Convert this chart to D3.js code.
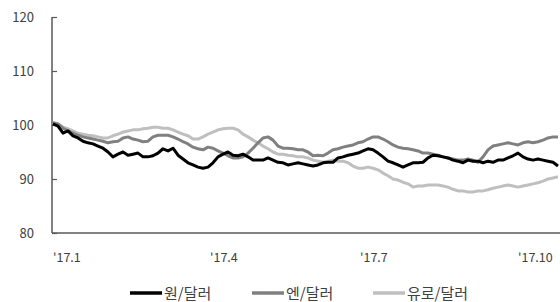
<!DOCTYPE html>
<html><head><meta charset="utf-8">
<script src="https://cdn.jsdelivr.net/npm/d3@7"></script>
<style>
body{margin:0;background:#fff;}
svg text{font-family:"Noto Sans CJK KR","Noto Sans",sans-serif;}
</style></head>
<body><svg id="c" width="560" height="302"></svg>
<script>
// Sampled values (index = trading-period sample, Jan 2017 .. Oct 2017)
const krw = [100.2,99.8,98.5,98.9,98.0,97.6,97.0,96.7,96.5,96.1,95.7,95.0,94.1,94.6,95.0,94.4,94.6,94.8,94.1,94.1,94.3,94.8,95.6,95.2,95.7,94.4,93.7,93.0,92.6,92.2,92.0,92.2,93.0,94.1,94.6,95.0,94.4,94.3,94.6,94.1,93.5,93.5,93.5,93.9,93.5,93.1,93.0,92.6,92.8,93.0,92.8,92.6,92.4,92.6,93.0,93.1,93.1,93.9,94.1,94.4,94.6,94.8,95.2,95.6,95.4,94.8,94.1,93.3,93.0,92.6,92.2,92.6,93.0,93.0,93.1,93.9,94.4,94.3,94.1,93.9,93.5,93.3,93.0,93.5,93.3,93.3,93.0,93.3,93.1,93.5,93.5,93.9,94.3,94.8,94.1,93.7,93.5,93.7,93.5,93.3,93.1,92.4];
const jpy = [100.4,100.2,99.4,98.9,98.5,98.1,97.8,97.6,97.4,97.2,97.0,96.7,96.9,97.0,97.6,97.8,97.4,97.2,96.9,97.0,97.8,98.1,98.1,98.1,97.8,97.4,96.9,96.5,95.9,95.6,95.4,95.9,95.7,95.2,94.8,94.3,93.9,93.9,94.1,94.8,95.7,96.7,97.6,97.8,97.2,96.1,95.7,95.7,95.6,95.4,95.4,95.0,94.3,94.4,94.3,94.8,95.4,95.6,95.9,96.1,96.3,96.7,96.9,97.4,97.8,97.8,97.4,96.9,96.3,95.9,95.7,95.6,95.4,95.2,94.8,94.8,94.6,94.4,94.1,93.9,93.7,93.5,93.5,93.7,93.5,93.1,94.1,95.4,96.1,96.3,96.5,96.7,96.5,96.3,96.7,96.9,96.7,96.9,97.2,97.6,97.8,97.8];
const eur = [100.4,100.2,99.6,99.3,98.9,98.5,98.3,98.1,98.0,97.8,97.6,97.6,98.0,98.3,98.7,98.9,99.1,99.1,99.3,99.4,99.6,99.6,99.4,99.4,99.1,98.7,98.3,98.0,97.4,97.4,97.8,98.3,98.7,99.1,99.3,99.4,99.4,99.1,98.3,97.8,97.2,96.7,96.1,95.6,95.0,94.6,94.6,94.4,94.3,94.1,94.1,93.9,93.5,93.3,93.1,93.3,93.5,93.3,93.3,93.0,92.4,92.0,92.0,92.2,92.0,91.7,91.1,90.6,90.0,89.8,89.4,89.1,88.5,88.7,88.7,88.9,88.9,88.9,88.7,88.5,88.1,87.8,87.8,87.6,87.6,87.8,87.8,88.0,88.3,88.5,88.7,88.9,88.7,88.5,88.7,88.9,89.1,89.3,89.6,90.0,90.2,90.4];
const seriesNames = ["원/달러","엔/달러","유로/달러"];
const seriesColors = ["#000000","#808080","#bfbfbf"];
const yTicks = [80,90,100,110,120];
const xTickLabels = ["'17.1","'17.4","'17.7","'17.10"];
const xTickIdx = [0,31.4,61.4,93];

const svg = d3.select("#c");
const x = d3.scaleLinear().domain([0, krw.length-1]).range([53,558]);
const y = d3.scaleLinear().domain([80,120]).range([233,17]);

// y axis with inward ticks
const yAxis = d3.axisRight(y).tickValues(yTicks).tickSize(5).tickFormat(d3.format("d"));
const ga = svg.append("g").attr("transform","translate(52,0)").call(yAxis);
ga.select(".domain").attr("stroke","#595959").attr("stroke-width",1.5).attr("d","M0,17V233");
ga.selectAll(".tick line").attr("stroke","#595959").attr("stroke-width",1.2);
ga.selectAll(".tick text").attr("x",-18).attr("text-anchor","end").attr("fill","#404040")
  .attr("font-size",13).attr("dy","0.35em");

// x axis line
svg.append("line").attr("x1",52).attr("x2",560).attr("y1",233).attr("y2",233)
  .attr("stroke","#595959").attr("stroke-width",1.5);
svg.append("g").selectAll("text").data(xTickLabels).join("text")
  .attr("x",(d,i)=>x(xTickIdx[i])).attr("y",262).attr("font-size",12.5)
  .attr("fill","#404040").text(d=>d);

const line = d3.line().x((d,i)=>x(i)).y(d=>y(d)).curve(d3.curveLinear);
const data = [krw,jpy,eur];
[2,1,0].forEach(k=>{
  svg.append("path").datum(data[k]).attr("fill","none")
    .attr("stroke",seriesColors[k]).attr("stroke-width",3)
    .attr("stroke-linejoin","round").attr("d",line);
});

// legend
const legX = [130,252,373];
const lg = svg.append("g");
seriesNames.forEach((n,i)=>{
  lg.append("line").attr("x1",legX[i]).attr("x2",legX[i]+32).attr("y1",293).attr("y2",293)
    .attr("stroke",seriesColors[i]).attr("stroke-width",3.5);
  lg.append("text").attr("x",legX[i]+34).attr("y",299).attr("font-size",15)
    .attr("fill","#404040").text(n);
});
</script></body></html>
